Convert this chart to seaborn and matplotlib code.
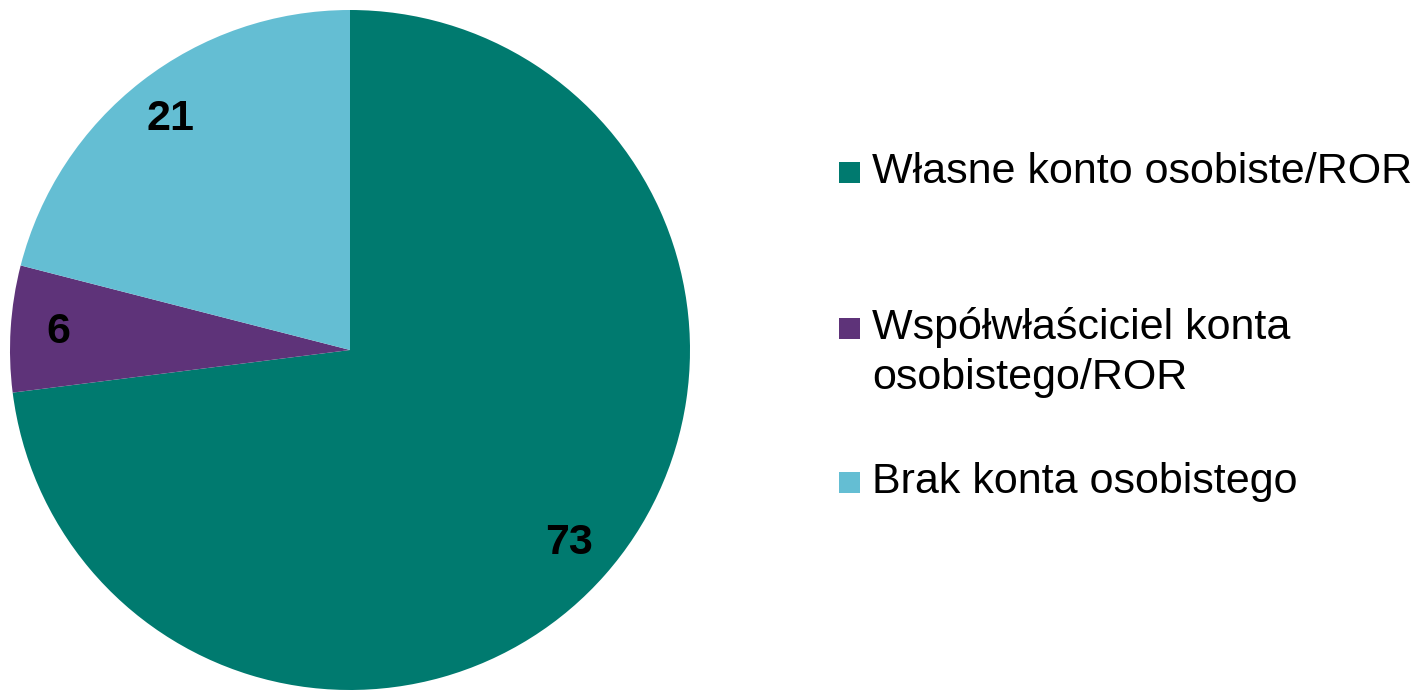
import matplotlib
matplotlib.use("Agg")
import matplotlib.pyplot as plt
import seaborn as sns
from matplotlib.patches import Rectangle

# Dane
kategorie = ["Własne konto osobiste/ROR",
             "Współwłaściciel konta\nosobistego/ROR",
             "Brak konta osobistego"]
wartosci = [73, 6, 21]
kolory = ["#007A6F", "#5E3379", "#64BED3"]

sns.set_theme(style="white")
plt.rcParams['font.family'] = ['Liberation Sans', 'DejaVu Sans']

W, H = 1413, 691
fig = plt.figure(figsize=(W / 100, H / 100), dpi=100)

# Wykres kołowy
ax = fig.add_axes([10 / W, 1 / H, 680 / W, 680 / H])
wedges, teksty, autoteksty = ax.pie(
    wartosci, colors=kolory, startangle=90, counterclock=False,
    radius=1.0, autopct=lambda p: f"{p:.0f}", pctdistance=0.86,
    wedgeprops=dict(linewidth=0, edgecolor='none'),
    textprops=dict(fontsize=31, fontweight='bold', color='black'))
ax.set_xlim(-1, 1)
ax.set_ylim(-1, 1)
ax.set_aspect('equal')
ax.axis('off')

# Legenda (ręcznie, znacznik przy pierwszej linii)
sq = 21
linie = [
    (kolory[0], ["Własne konto osobiste/ROR"], 183),
    (kolory[1], ["Współwłaściciel konta", "osobistego/ROR"], 339),
    (kolory[2], ["Brak konta osobistego"], 493),
]
for kolor, teksty_leg, baseline in linie:
    fig.patches.append(Rectangle((839 / W, (H - baseline) / H), sq / W, sq / H,
                                 transform=fig.transFigure, facecolor=kolor,
                                 edgecolor='none'))
    for i, t in enumerate(teksty_leg):
        fig.text(872 / W, (H - baseline - i * 50) / H, t, fontsize=31,
                 va='baseline', ha='left', color='black')

fig.savefig("out.png", dpi=100)
